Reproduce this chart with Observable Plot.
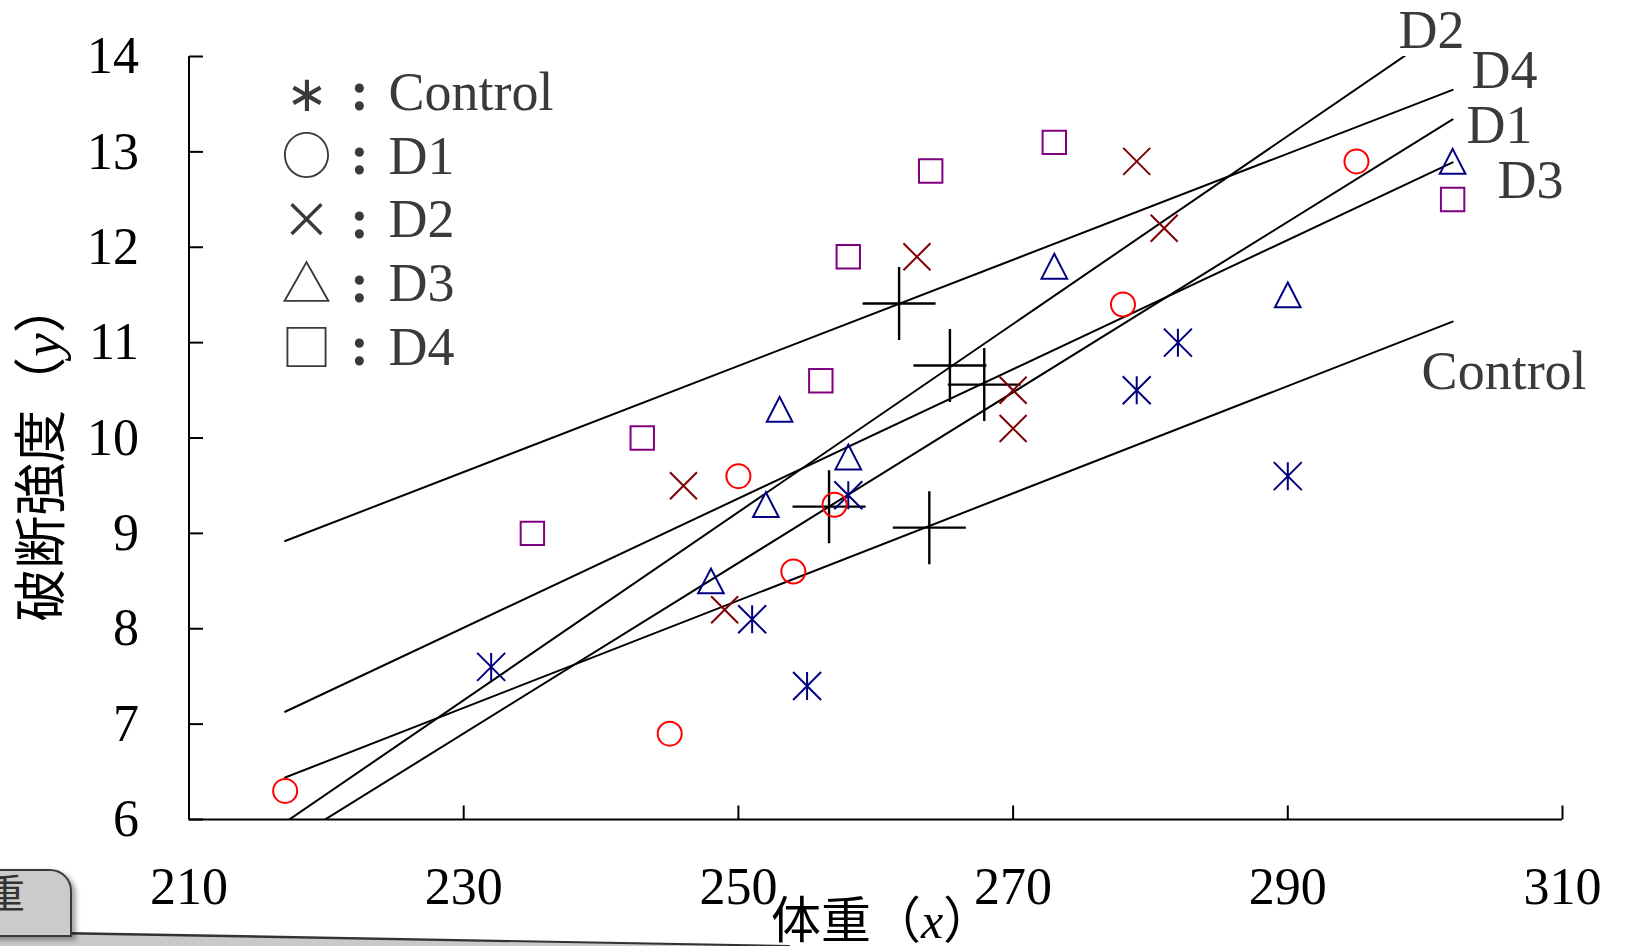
<!DOCTYPE html>
<html>
<head>
<meta charset="utf-8">
<script src="https://cdn.jsdelivr.net/npm/d3@7"></script>
<script src="https://cdn.jsdelivr.net/npm/@observablehq/plot@0.6"></script>
<style>
  html, body { margin: 0; padding: 0; background: #fff; overflow: hidden; }
  #wrap { position: relative; width: 1628px; height: 946px; overflow: hidden; background: #fff; }
  #sliver { position: absolute; left: 0; top: 928px; width: 800px; height: 18px; background: #c9c9c9;
            clip-path: polygon(0 5px, 69px 5px, 790px 18px, 0 18px); }
  #sliverLine { position: absolute; left: 0; top: 928px; width: 800px; height: 18px; background: #333;
            clip-path: polygon(69px 4px, 790px 17px, 790px 19px, 69px 6.5px); }
  #tab { position: absolute; left: -30px; top: 869px; width: 98px; height: 64px; background: #cbcbcb;
         border: 2px solid #3a3a3a; border-radius: 0 22px 0 0; box-shadow: 4px 3px 5px rgba(0,0,0,0.35);
         overflow: hidden; font-family: "Noto Sans CJK JP"; font-size: 40px; color: #333; }
  #tab span { position: absolute; left: 13px; top: 0px; line-height: 1; }
</style>
</head>
<body>
<div id="wrap"></div>
<script>
// ---------- data ----------
const groups = ["Control", "D1", "D2", "D3", "D4"];
const controlX = [232, 251, 255, 258, 279, 282, 290];
const controlY = [7.6, 8.1, 7.4, 9.4, 10.5, 11.0, 9.6];
const d1X = [217, 245, 250, 254, 257, 278, 295];
const d1Y = [6.3, 6.9, 9.6, 8.6, 9.3, 11.4, 12.9];
const d2X = [246, 249, 263, 270, 270, 279, 281];
const d2Y = [9.5, 8.2, 11.9, 10.5, 10.1, 12.9, 12.2];
const d3X = [248, 252, 253, 258, 273, 290, 302];
const d3Y = [8.5, 9.3, 10.3, 9.8, 11.8, 11.5, 12.9];
const d4X = [235, 243, 256, 258, 264, 273, 302];
const d4Y = [9.0, 10.0, 10.6, 11.9, 12.8, 13.1, 12.5];
// group means (large crosses)
const meanX = [263.9, 256.6, 265.4, 267.9, 261.7];
const meanY = [9.06, 9.28, 10.76, 10.56, 11.41];
// regression lines: value at both ends
const fitX = [217, 302];
const fitStartY = [6.44, 5.74, 5.97, 7.13, 8.92];
const fitEndY = [11.22, 13.34, 14.35, 12.89, 13.65];
const xTicks = [210, 230, 250, 270, 290, 310];
const yTicks = [6, 7, 8, 9, 10, 11, 12, 13, 14];
const legendSymbols = ["∗", "○", "×", "△", "□"];
const legendNames = ["Control", "D1", "D2", "D3", "D4"];
const legendSep = ":";
const xTitle = ["体重（", "x", "）"];
const yTitle = ["破断強度（", "y", "）"];

// ---------- styles ----------
const colors = {Control: "#000080", D1: "#ff0000", D2: "#800000", D3: "#000080", D4: "#800080"};
const symbols = {
  Control: {draw(c) { const h = 14; c.moveTo(0, -h); c.lineTo(0, h); c.moveTo(-h, -h); c.lineTo(h, h); c.moveTo(-h, h); c.lineTo(h, -h); }},
  D1: {draw(c) { const r = 12; c.moveTo(r, 0); c.arc(0, 0, r, 0, 2 * Math.PI); }},
  D2: {draw(c) { const h = 13.5; c.moveTo(-h, -h); c.lineTo(h, h); c.moveTo(-h, h); c.lineTo(h, -h); }},
  D3: {draw(c) { c.moveTo(0, -12.5); c.lineTo(12.8, 12.3); c.lineTo(-12.8, 12.3); c.closePath(); }},
  D4: {draw(c) { const h = 11.7; c.moveTo(-h, -h); c.lineTo(h, -h); c.lineTo(h, h); c.lineTo(-h, h); c.closePath(); }}
};
const bigPlus = {draw(c) { const h = 36.5; c.moveTo(-h, 0); c.lineTo(h, 0); c.moveTo(0, -h); c.lineTo(0, h); }};
const xTickSym = {draw(c) { c.moveTo(0, 0); c.lineTo(0, -14); }};
const yTickSym = {draw(c) { c.moveTo(0, 0); c.lineTo(14, 0); }};
const labelOffset = {Control: [-31, 50], D1: [14, 6], D2: [-54, 8], D3: [45, 18], D4: [19, -19]};
const textGray = "#3a3a3a";
const serif = "Liberation Serif";
const cjk = "Noto Sans CJK JP";
const intFormat = d => String(d);

// ---------- tables ----------
const seriesX = [controlX, d1X, d2X, d3X, d4X];
const seriesY = [controlY, d1Y, d2Y, d3Y, d4Y];
const points = groups.flatMap((g, i) => seriesX[i].map((x, j) => ({group: g, x, y: seriesY[i][j]})));
const means = groups.map((g, i) => ({group: g, x: meanX[i], y: meanY[i]}));
const fits = groups.flatMap((g, i) => [
  {group: g, x: fitX[0], y: fitStartY[i]},
  {group: g, x: fitX[1], y: fitEndY[i]}
]);
const fitEnds = groups.map((g, i) => ({group: g, x: fitX[1], y: fitEndY[i]}));

const legendRowStep = 63.75;

const chart = Plot.plot({
  width: 1628,
  height: 946,
  marginLeft: 188.5,
  marginRight: 66,
  marginTop: 56,
  marginBottom: 127,
  x: {domain: [xTicks[0], xTicks[xTicks.length - 1]]},
  y: {domain: [yTicks[0], yTicks[yTicks.length - 1]]},
  style: {fontFamily: serif, background: "white", color: "black", overflow: "visible"},
  marks: [
    // axes
    Plot.axisX(xTicks, {tickSize: 0, tickPadding: 48, fontSize: 52, label: null, fontFamily: serif, tickFormat: intFormat}),
    Plot.axisY(yTicks, {tickSize: 0, tickPadding: 50, fontSize: 52, label: null, fontFamily: serif, tickFormat: intFormat}),
    Plot.ruleY([yTicks[0]], {stroke: "black", strokeWidth: 2}),
    Plot.ruleX([xTicks[0]], {stroke: "black", strokeWidth: 2}),
    Plot.dot(xTicks, {x: d => d, y: yTicks[0], symbol: xTickSym, r: 5, fill: "none", stroke: "black", strokeWidth: 2}),
    Plot.dot(yTicks, {x: xTicks[0], y: d => d, symbol: yTickSym, r: 5, fill: "none", stroke: "black", strokeWidth: 2}),
    // regression lines
    Plot.line(fits, {x: "x", y: "y", z: "group", stroke: "black", strokeWidth: 2, clip: true}),
    // group means
    Plot.dot(means, {x: "x", y: "y", symbol: bigPlus, r: 10, fill: "none", stroke: "black", strokeWidth: 2.4}),
    // data points
    ...groups.map(g => Plot.dot(points.filter(d => d.group === g), {
      x: "x", y: "y", symbol: symbols[g], r: 8, fill: "none", stroke: colors[g], strokeWidth: 2
    })),
    // line labels
    ...groups.map(g => Plot.text(fitEnds.filter(d => d.group === g), {
      x: "x", y: "y", text: "group", textAnchor: "start",
      dx: labelOffset[g][0], dy: labelOffset[g][1],
      fontSize: 54, fontFamily: serif, fill: textGray
    })),
    // legend
    ...legendSymbols.map((s, i) => Plot.text([s], {
      frameAnchor: "top-left", text: d => d, textAnchor: "middle", lineAnchor: "middle",
      dx: 117.5, dy: 38 + i * legendRowStep, fontSize: 50, fontFamily: cjk, fill: textGray
    })),
    ...legendNames.map((s, i) => Plot.text([legendSep], {
      frameAnchor: "top-left", text: d => d, textAnchor: "middle", lineAnchor: "middle",
      dx: 170.5, dy: 36 + i * legendRowStep, fontSize: 56, fontWeight: "bold", fontFamily: serif, fill: textGray
    })),
    ...legendNames.map((s, i) => Plot.text([s], {
      frameAnchor: "top-left", text: d => d, textAnchor: "start", lineAnchor: "middle",
      dx: 199.5, dy: 36 + i * legendRowStep, fontSize: 54, fontFamily: serif, fill: textGray
    }))
  ]
});

document.getElementById("wrap").appendChild(chart);

// axis titles with italic variable names
const svg = d3.select(chart);
const xt = svg.append("text")
  .attr("x", 882).attr("y", 938)
  .attr("text-anchor", "middle")
  .attr("font-size", 50).attr("font-family", cjk).attr("fill", "black");
xt.append("tspan").text(xTitle[0]);
xt.append("tspan").attr("font-family", serif).attr("font-style", "italic").text(xTitle[1]);
xt.append("tspan").text(xTitle[2]);

const yt = svg.append("text")
  .attr("transform", "translate(60,451) rotate(-90)")
  .attr("text-anchor", "middle")
  .attr("font-size", 53).attr("font-family", cjk).attr("fill", "black");
yt.append("tspan").text(yTitle[0]);
yt.append("tspan").attr("font-family", serif).attr("font-style", "italic").text(yTitle[1]);
yt.append("tspan").text(yTitle[2]);

// cropped screenshot artefact at the bottom-left
const wrap = document.getElementById("wrap");
const sl = document.createElement("div"); sl.id = "sliver"; wrap.appendChild(sl);
const sll = document.createElement("div"); sll.id = "sliverLine"; wrap.appendChild(sll);
const tab = document.createElement("div"); tab.id = "tab";
const tabText = document.createElement("span"); tabText.textContent = "重";
tab.appendChild(tabText); wrap.appendChild(tab);
</script>
</body>
</html>
